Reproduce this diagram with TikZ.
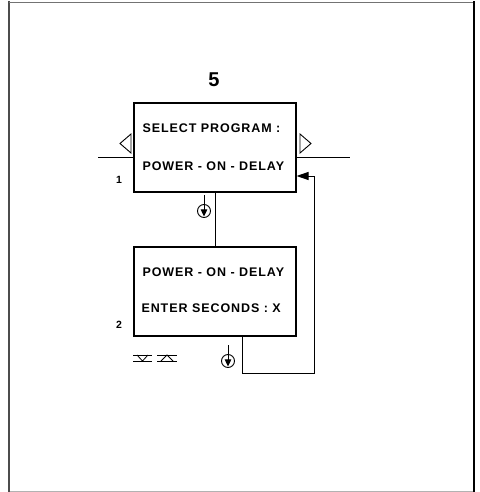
\documentclass[tikz,border=0pt]{standalone}
\usepackage{fontspec}
\setmainfont{Liberation Sans}
\usetikzlibrary{arrows.meta}
\begin{document}
\begin{tikzpicture}[x=1pt,y=-1pt,line width=1pt,
  stepbox/.style={draw, line width=1.1pt, minimum width=162pt, minimum height=89pt, inner sep=0pt},
  boxtext/.style={font=\fontsize{12.5}{14}\selectfont\bfseries\addfontfeature{LetterSpace=7.5}, anchor=base west, inner sep=0pt},
  stepno/.style={font=\fontsize{10.5}{12}\selectfont\bfseries, anchor=base, inner sep=0pt},
  keysym/.style={draw, circle, line width=0.9pt, minimum size=13pt, inner sep=0pt},
  keyarrow/.style={line width=0.9pt, -{Triangle[length=7pt,width=6.5pt]}},
  fbarrow/.style={-{Triangle[length=12pt,width=8pt]}}
]
% page frame
\useasboundingbox (0,0) rectangle (479,492);
\draw[line width=2.5pt, black!70] (9,1.5) -- (9,492);
\draw[line width=1.2pt, black!55] (9,2.5) -- (474,2.5);
\draw[line width=2pt, black] (473.5,1.5) -- (473.5,492);
\draw[line width=1pt, black!30] (10,491) -- (472.5,491);

% title
\node[font=\fontsize{20}{24}\selectfont\bfseries, anchor=base, inner sep=0pt] (title) at (214,86.5) {5};

% program boxes
\node[stepbox] (b1) at (215,147.5) {};
\node[stepbox] (b2) at (215,291.5) {};
\node[boxtext] (t1a) at (142,132.3) {SELECT PROGRAM :};
\node[boxtext] (t1b) at (142,170) {POWER - ON - DELAY};
\node[boxtext] (t2a) at (142,276) {POWER - ON - DELAY};
\node[boxtext] (t2b) at (141,312.3) {ENTER SECONDS : X};
\node[stepno] (n1) at (119,183.3) {1};
\node[stepno] (n2) at (119,328.3) {2};

% side lines and scroll triangles
\coordinate (inL) at (98,157);
\coordinate (outR) at (350,157);
\draw (inL) -- (b1.west |- inL);
\draw (b1.east |- outR) -- (outR);
\draw[line width=0.9pt] (131,134) -- (120,143.5) -- (131,153) -- cycle;
\draw[line width=0.9pt] (300,134) -- (311,143.5) -- (300,153) -- cycle;

% step connector
\draw (b1) -- (b2);

% feedback from step 2 back to step 1
\coordinate (fb) at (314,176);
\draw[fbarrow] ([xshift=27pt]b2.south) -- ++(0,37) -| (fb) -- (b1.east |- fb);

% key symbols
\node[keysym] (k1) at (204,211) {};
\coordinate (k1top) at (204,195);
\draw[keyarrow] (k1top) -- ([yshift=1.5pt]k1.south);
\node[keysym] (k2) at (228,361) {};
\coordinate (k2top) at (228,345);
\draw[keyarrow] (k2top) -- ([yshift=1.5pt]k2.south);

% up/down keys
\draw[line width=0.8pt] (133,355) -- (152,355) (133,361) -- (152,361);
\draw[line width=0.8pt] (137,355) -- (142.5,361) -- (148,355);
\draw[line width=0.8pt] (157,355) -- (177,355) (157,361) -- (177,361);
\draw[line width=0.8pt] (161,361) -- (167,355) -- (173,361);
\end{tikzpicture}
\end{document}
